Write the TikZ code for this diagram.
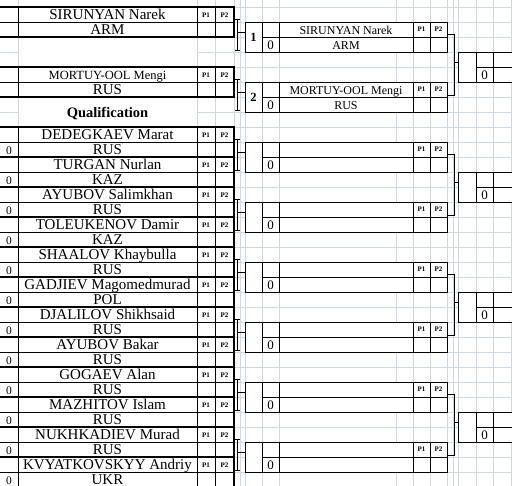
\documentclass[tikz,border=0pt]{standalone}
\usepackage{fontspec}
\setmainfont{Liberation Serif}
\usetikzlibrary{positioning}
\definecolor{gridc}{RGB}{208,215,229}

\begin{document}
\begin{tikzpicture}[x=1pt,y=-1pt,
  gridln/.style={draw=gridc,line width=0.7pt},
  thk/.style={line width=1.7pt},
  thn/.style={line width=0.8pt},
  txt/.style={inner sep=0pt,anchor=base},
  pp/.style={inner sep=0pt,anchor=base,font=\fontsize{7}{7}\selectfont\bfseries},
  zero/.style={inner sep=0pt,anchor=base,font=\fontsize{11.5}{11.5}\selectfont},
  mzero/.style={inner sep=0pt,anchor=base,font=\fontsize{13}{13}\selectfont},
  mtxt/.style={inner sep=0pt,anchor=base,font=\fontsize{12}{12}\selectfont},
  seed/.style={inner sep=0pt,font=\fontsize{12.5}{12.5}\selectfont\bfseries},
  mbox/.style={draw,thn,fill=white,minimum width=202pt,minimum height=30pt,inner sep=0pt},
  rbox/.style={draw,thn,fill=white,minimum width=56pt,minimum height=30pt,inner sep=0pt}]
  \useasboundingbox (0,0) rectangle (512,486);
  % sheet grid
  \foreach \y in {7,22,...,487} \draw[gridln] (0,\y) -- (512,\y);
  \foreach \x in {18,197,215,234,240,245,262,279,396,413,430,447,453,458,476,493,511}
    \draw[gridln] (\x,0) -- (\x,486);
  \fill[white] (18.5,37.5) rectangle (196.5,66.5);
  \fill[white] (18.5,97.5) rectangle (196.5,126.5);
  \node[txt,font=\fontsize{14.5}{14.5}\selectfont\bfseries] (qual) at (107.5,117.7) {Qualification};
  % wrestlers list
  \foreach \r/\fs/\nm/\ct/\z [count=\i] in {
    0/15/SIRUNYAN Narek/ARM/,
    4/12.5/MORTUY-OOL Mengi/RUS/,
    8/15/DEDEGKAEV Marat/RUS/0,
    10/15/TURGAN Nurlan/KAZ/0,
    12/15/AYUBOV Salimkhan/RUS/0,
    14/15/TOLEUKENOV Damir/KAZ/0,
    16/15/SHAALOV Khaybulla/RUS/0,
    18/15/GADJIEV Magomedmurad/POL/0,
    20/15/DJALILOV Shikhsaid/RUS/0,
    22/15/AYUBOV Bakar/RUS/0,
    24/15/GOGAEV Alan/RUS/0,
    26/15/MAZHITOV Islam/RUS/0,
    28/15/NUKHKADIEV Murad/RUS/0,
    30/15/KVYATKOVSKYY Andriy/UKR/0}{
    \pgfmathsetmacro\yt{7+15*\r}
    \fill[white] (0,\yt) rectangle (234,\yt+30);
    \draw[thn] (0,\yt+15) -- (234,\yt+15) (18,\yt) -- (18,\yt+30)
      (197,\yt) -- (197,\yt+30) (215,\yt) -- (215,\yt+30);
    \draw[thk] (-2,\yt) -- (234,\yt) -- (234,\yt+30) -- (-2,\yt+30);
    \node[txt,font=\fontsize{\fs}{\fs}\selectfont] (n\i) at (107.5,\yt+12.8) {\nm};
    \node[txt,font=\fontsize{15}{15}\selectfont] (c\i) at (107.5,\yt+27.8) {\ct};
    \node[zero] (z\i) at (9,\yt+27.8) {\z};
    \node[pp] (pa\i) at (206,\yt+10.5) {P1};
    \node[pp] (pb\i) at (224.5,\yt+10.5) {P2};
  }
  % first round
  \foreach \r/\s/\nm/\ct [count=\i] in {1/1/SIRUNYAN Narek/ARM, 5/2/MORTUY-OOL Mengi/RUS,
    9///, 13///, 17///, 21///, 25///, 29///}{
    \pgfmathsetmacro\yt{7+15*\r}
    \node[mbox] (m\i) at (346,\yt+15) {};
    \draw[thn] (262,\yt) -- (262,\yt+30) (279,\yt) -- (279,\yt+30)
      (413,\yt) -- (413,\yt+30) (430,\yt) -- (430,\yt+30) (262,\yt+15) -- (447,\yt+15);
    \node[seed] (s\i) at (253.5,\yt+15.5) {\s};
    \node[mzero] (mz\i) at (270.5,\yt+27.8) {0};
    \node[mtxt] (mn\i) at (346,\yt+12.8) {\nm};
    \node[mtxt] (mc\i) at (346,\yt+27.8) {\ct};
    \node[pp] (ma\i) at (421.5,\yt+9.7) {P1};
    \node[pp] (mb\i) at (438.5,\yt+9.7) {P2};
    % bracket from the list
    \coordinate (b\i) at (237,\yt+10.5);
    \draw[thn] (234.5,\yt-3) -- (240,\yt-3) (237,\yt-3) -- (237,\yt+28) (234.5,\yt+28) -- (240,\yt+28);
    \draw[thn] (b\i) -- (b\i -| m\i.west);
  }
  % second round
  \foreach \r [count=\j] in {3,11,19,27}{
    \pgfmathsetmacro\yt{7+15*\r}
    \pgfmathtruncatemacro\a{2*\j-1}
    \pgfmathtruncatemacro\b{2*\j}
    \node[rbox] (r\j) at (486,\yt+15) {};
    \draw[thn] (476,\yt) -- (476,\yt+30) (493,\yt) -- (493,\yt+30) (476,\yt+15) -- (514,\yt+15);
    \node[mzero] (rz\j) at (484.5,\yt+27.8) {0};
    \draw[thn] ([yshift=-13pt]m\a.north east) -- ++(7,0) |- ([yshift=-14pt]m\b.north east);
    \coordinate (q\j) at (454,\yt+10);
    \draw[thn] (q\j) -- (q\j -| r\j.west);
  }
\end{tikzpicture}
\end{document}
